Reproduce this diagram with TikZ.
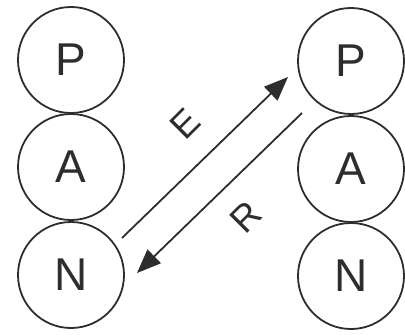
\documentclass[tikz,border=0pt]{standalone}
\usepackage{fontspec}
\setmainfont{Liberation Sans}
\usetikzlibrary{arrows.meta}
\definecolor{ink}{RGB}{45,45,45}
\tikzset{
  ball/.style={circle, draw=ink, line width=1.8pt, minimum size=106pt, inner sep=0pt,
    text=ink, font=\fontsize{46}{46}\selectfont},
  arr/.style={draw=ink, line width=1.8pt, -{Triangle[length=24pt,width=19pt]}},
  lab/.style={text=ink, font=\fontsize{37}{37}\selectfont, rotate=45, inner sep=0pt}
}
\begin{document}
\begin{tikzpicture}[x=1pt,y=-1pt]
\useasboundingbox (0,0) rectangle (405,335);
\node[ball] (lp) at (71,60) {P};
\node[ball] (la) at (71,167) {A};
\node[ball] (ln) at (71,275) {N};
\node[ball] (rp) at (351,61) {P};
\node[ball] (ra) at (351,169) {A};
\node[ball] (rn) at (351,276) {N};
\coordinate (e1) at (122,238);
\coordinate (e2) at (288,77);
\coordinate (r1) at (302,113);
\coordinate (r2) at (137,273);
\draw[arr] (e1) -- (e2);
\draw[arr] (r1) -- (r2);
\node[lab] (le) at (185,124) {E};
\node[lab] (lr) at (246,217) {R};
\end{tikzpicture}
\end{document}
